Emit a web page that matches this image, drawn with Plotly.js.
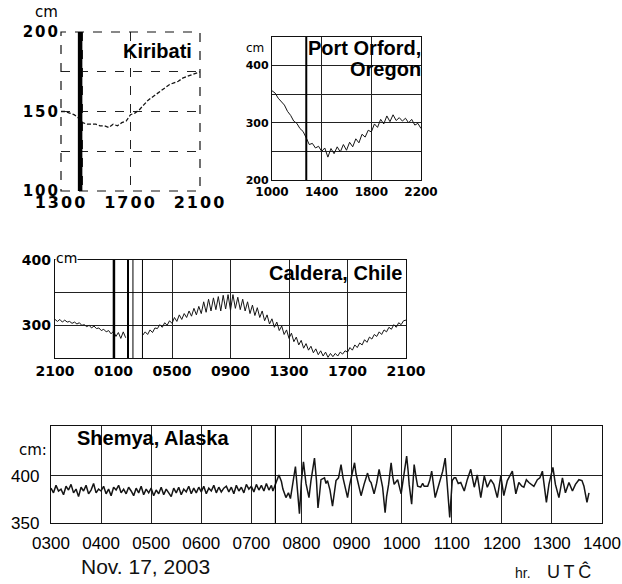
<!DOCTYPE html>
<html>
<head>
<meta charset="utf-8">
<script src="https://cdn.plot.ly/plotly-3.0.1.min.js"></script>
<style>
  html, body { margin: 0; padding: 0; background: #fff; }
  #chart { width: 622px; height: 584px; }
  .subplot.xy .xtick text, .subplot.xy .ytick text { letter-spacing: 2px; }
  .subplot.x3y3 .xtick text { letter-spacing: 1px; }
</style>
</head>
<body>
<div id="chart"></div>
<script>
// ---------------- DATA ----------------
// Kiribati (hours 1300-2100, 15-min readings, cm)
const kiribatiStartHr = 13, kiribatiStepHr = 0.25;
const kiribatiLevel = [150,150,149,148,146,143,142,142,142,141,141,140,142,141,143,144,
                       148,149,151,154,157,159,161,163,165,167,168,169,171,172,173,174,175];
const kiribatiTickHours = [13, 14.25, 17, 21];
const kiribatiTickText  = ['1300', '', '1700', '2100'];
const kiribatiEvents = [14.1];

// Port Orford, Oregon (hours 1000-2200, 15-min readings, cm)
const orfordStartHr = 10, orfordStepHr = 0.25;
const orfordLevel = [356,352,343,336,331,320,313,303,299,290,285,274,262,264,256,259,
                     250,256,240,255,246,258,249,262,252,266,258,272,265,280,275,287,
                     284,298,292,306,298,312,302,314,304,309,303,308,300,306,296,299,290];
const orfordTickHours = [10, 14, 18, 22];
const orfordTickText  = ['1000', '1400', '1800', '2200'];
const orfordLevelTicks = [200, 250, 300, 350, 400];
const orfordLevelText  = ['200', '', '300', '', '400'];
const orfordEvents = [12.76];

// Caldera, Chile (hours after 2100, 10-min readings, cm; null = no record)
const calderaStartHr = 0, calderaStepHr = 1/6;
const calderaLevel = [
  309,306,309,305,308,305, 306,303,305,302,304,300, 301,298,300,296,299,295,
  296,292,294,290,292,287, 291,283,289,280,290,281, null,null,null,null,null,null,
  285,290,286,293,289,296, 295,301,297,304,300,307, 303,312,306,316,309,318,
  312,322,314,326,316,329, 318,336,320,340,322,342, 324,344,322,346,325,347,
  323,347,326,343,324,340, 322,336,318,331,315,327, 312,322,307,316,302,310,
  297,305,292,299,286,293, 280,288,275,282,270,277, 265,272,262,268,258,264,
  255,261,253,259,251,257, 252,257,253,259,256,261, 259,266,262,270,266,273,
  270,278,274,282,279,286, 283,290,286,293,290,297, 294,301,297,304,301,307, 308];
const calderaTickHours = [0, 4, 8, 12, 16, 20, 24];
const calderaTickText  = ['2100', '0100', '0500', '0900', '1300', '1700', '2100'];
const calderaLevelTicks = [250, 300, 350, 400];
const calderaLevelText  = ['', '300', '', '400'];
const calderaEvents = [4.03, 4.99, 5.33, 5.98];

// Shemya, Alaska (hours UTC, Nov 17 2003, cm)
const shemyaQuietStartHr = 3, shemyaQuietStepHr = 0.05;
const shemyaQuietLevel = [
  387,382,390,384,386,380,389,385,391,382, 386,378,388,384,390,381,385,392,382,386,
  384,389,381,386,379,388,385,390,382,386, 381,388,384,379,387,382,389,380,386,382,
  387,379,385,381,388,380,386,382,378,387, 382,388,380,386,383,389,381,387,382,388,
  383,389,381,387,384,390,382,388,383,387, 389,383,388,381,390,384,388,382,391,386,
  389,383,391,385,390,384,392,385,390];
const shemyaActiveHours = [
  7.43,7.49,7.55,7.60,7.63,7.69,7.74,7.78,7.82,7.88,7.92,7.96,8.00,8.04,8.09,8.15,8.19,8.23,8.26,8.30,
  8.33,8.36,8.39,8.46,8.49,8.52,8.57,8.62,8.66,8.69,8.74,8.79,8.83,8.86,8.92,8.96,8.99,9.03,9.06,9.09,
  9.12,9.19,9.25,9.32,9.36,9.39,9.45,9.50,9.55,9.59,9.62,9.67,9.70,9.74,9.79,9.82,9.85,9.92,9.99,10.02,
  10.05,10.10,10.13,10.15,10.20,10.25,10.29,10.32,10.38,10.42,10.45,10.52,10.56,10.60,10.67,10.71,10.75,10.82,10.87,10.91,
  10.96,11.01,11.05,11.08,11.13,11.18,11.25,11.31,11.38,11.45,11.51,11.58,11.65,11.71,11.78,11.84,11.91,11.98,12.04,12.11,
  12.21,12.28,12.34,12.40,12.44,12.49,12.54,12.64,12.71,12.76,12.81,12.89,12.94,13.02,13.07,13.14,13.21,13.27,13.34,13.41,
  13.47,13.54,13.60,13.64,13.70,13.74];
const shemyaActiveLevel = [
  384,392,401,394,386,377,382,376,390,410,385,360,395,415,392,377,395,409,419,395,
  366,380,396,398,392,395,385,368,385,395,398,412,398,391,377,390,398,405,414,402,
  395,379,391,403,395,393,381,392,407,398,388,361,378,391,414,400,391,396,381,392,
  405,421,405,391,370,412,398,389,388,392,389,389,395,405,377,385,391,405,419,391,
  356,395,398,398,392,393,384,396,407,388,401,377,400,388,396,391,377,400,379,395,
  405,381,393,389,388,396,393,389,396,398,405,372,391,409,391,377,398,382,393,384,
  391,396,395,389,372,382];
const shemyaTickHours = [3,4,5,6,7,8,9,10,11,12,13,14];
const shemyaTickText  = ['0300','0400','0500','0600','0700','0800','0900','1000','1100','1200','1300','1400'];
const shemyaEvents = [7.48];

// ---------------- BUILD ----------------
const W = 622, H = 584;
const px = v => v / W;
const py = v => 1 - v / H;
const series = (start, step, arr) => arr.map((_, i) => start + i * step);

const lineCol = '#151515';
const traces = [
  { x: series(kiribatiStartHr, kiribatiStepHr, kiribatiLevel), y: kiribatiLevel,
    xaxis: 'x', yaxis: 'y', mode: 'lines', line: { color: lineCol, width: 1.3, dash: '4px,2px' }, hoverinfo: 'skip' },
  { x: series(orfordStartHr, orfordStepHr, orfordLevel), y: orfordLevel,
    xaxis: 'x2', yaxis: 'y2', mode: 'lines', line: { color: lineCol, width: 1 }, hoverinfo: 'skip' },
  { x: series(calderaStartHr, calderaStepHr, calderaLevel), y: calderaLevel,
    xaxis: 'x3', yaxis: 'y3', mode: 'lines', connectgaps: false, line: { color: lineCol, width: 1 }, hoverinfo: 'skip' },
  { x: series(shemyaQuietStartHr, shemyaQuietStepHr, shemyaQuietLevel).concat(shemyaActiveHours),
    y: shemyaQuietLevel.concat(shemyaActiveLevel),
    xaxis: 'x4', yaxis: 'y4', mode: 'lines', line: { color: lineCol, width: 1.5 }, hoverinfo: 'skip' }
];

const gridCol = '#222';
const baseAxis = {
  showline: true, mirror: true, linecolor: '#111', linewidth: 1.2,
  showgrid: true, gridcolor: gridCol, gridwidth: 1, zeroline: false,
  ticks: '', tickmode: 'array', tickangle: 0, fixedrange: true, ticklabeloverflow: 'allow'
};
const boldDV = s => ({ family: 'DejaVu Sans', size: s, color: '#000', weight: 'bold' });
const sans = s => ({ family: 'Liberation Sans, Arial, sans-serif', size: s, color: '#000' });

const layout = {
  width: W, height: H,
  margin: { l: 0, r: 0, t: 0, b: 0 },
  paper_bgcolor: '#fff', plot_bgcolor: '#fff',
  showlegend: false,
  xaxis: Object.assign({}, baseAxis, { domain: [px(61), px(200)], range: [13, 21], anchor: 'y',
    showline: false, griddash: 'dash', tickvals: kiribatiTickHours, ticktext: kiribatiTickText, tickfont: boldDV(16) }),
  yaxis: Object.assign({}, baseAxis, { domain: [py(191), py(32)], range: [100, 200], anchor: 'x',
    showline: false, griddash: 'dash', tickvals: [100, 125, 150, 175, 200], ticktext: ['100', '', '150', '', '200'], tickfont: boldDV(15) }),
  xaxis2: Object.assign({}, baseAxis, { domain: [px(272), px(421)], range: [10, 22], anchor: 'y2',
    tickvals: orfordTickHours, ticktext: orfordTickText, tickfont: boldDV(12) }),
  yaxis2: Object.assign({}, baseAxis, { domain: [py(180), py(37)], range: [200, 450], anchor: 'x2',
    tickvals: orfordLevelTicks, ticktext: orfordLevelText, tickfont: boldDV(11) }),
  xaxis3: Object.assign({}, baseAxis, { domain: [px(55), px(406)], range: [0, 24], anchor: 'y3',
    tickvals: calderaTickHours, ticktext: calderaTickText, tickfont: boldDV(14) }),
  yaxis3: Object.assign({}, baseAxis, { domain: [py(358), py(260)], range: [250, 400], anchor: 'x3',
    tickvals: calderaLevelTicks, ticktext: calderaLevelText, tickfont: boldDV(14) }),
  xaxis4: Object.assign({}, baseAxis, { domain: [px(51), px(602)], range: [3, 14], anchor: 'y4',
    tickvals: shemyaTickHours, ticktext: shemyaTickText, tickfont: sans(17), ticklabelstandoff: 4 }),
  yaxis4: Object.assign({}, baseAxis, { domain: [py(523), py(426)], range: [350, 453], anchor: 'x4',
    tickvals: [350, 400], ticktext: ['350', '400'], tickfont: sans(17), ticklabelstandoff: 7 }),
  shapes: [],
  annotations: []
};

layout.shapes.push({ type: 'rect', xref: 'x domain', yref: 'y domain', x0: 0, x1: 1, y0: 0, y1: 1,
  line: { color: '#111', width: 1.2, dash: 'dash' } });

const eventLine = (xa, ya, t, w) => ({ type: 'line', xref: xa, yref: ya + ' domain', x0: t, x1: t, y0: 0, y1: 1,
  line: { color: '#000', width: w } });
const kiribatiW = [4.5];
const orfordW = [2];
const calderaW = [2.5, 2, 1, 1];
const shemyaW = [1.2];
kiribatiEvents.forEach((t, i) => layout.shapes.push(eventLine('x', 'y', t, kiribatiW[i])));
orfordEvents.forEach((t, i) => layout.shapes.push(eventLine('x2', 'y2', t, orfordW[i])));
calderaEvents.forEach((t, i) => layout.shapes.push(eventLine('x3', 'y3', t, calderaW[i])));
shemyaEvents.forEach((t, i) => layout.shapes.push(eventLine('x4', 'y4', t, shemyaW[i])));

const ann = (text, x, y, font, xanchor, extra) => Object.assign({
  text, x: px(x), y: py(y), xref: 'paper', yref: 'paper', showarrow: false,
  xanchor: xanchor || 'center', yanchor: 'middle', font, borderpad: 0
}, extra || {});
const titleFont = s => ({ family: 'Liberation Sans, Arial, sans-serif', size: s, color: '#000', weight: 'bold' });

layout.annotations.push(
  ann('Kiribati', 157.5, 50.8, titleFont(20)),
  ann('Port Orford,', 422, 48, titleFont(20), 'right'),
  ann('Oregon', 422, 68.5, titleFont(20), 'right'),
  ann('Caldera, Chile', 402.5, 272.5, titleFont(20), 'right'),
  ann('Shemya, Alaska', 152.5, 438, titleFont(20)),
  ann('cm', 46.5, 12, { family: 'DejaVu Sans', size: 15, color: '#000' }),
  ann('cm', 255, 48, { family: 'DejaVu Sans', size: 12, color: '#000' }),
  ann('cm', 66, 257.5, { family: 'DejaVu Sans', size: 14, color: '#000' }, 'center', { bgcolor: '#fff' }),
  ann('cm:', 33, 450, { family: 'DejaVu Sans', size: 15, color: '#000' }),
  ann('Nov. 17, 2003', 145, 566, { family: 'Liberation Sans, Arial, sans-serif', size: 21, color: '#111' }),
  ann('hr.', 523, 573, { family: 'Liberation Sans, Arial, sans-serif', size: 14, color: '#111' }),
  ann('U\u2009T\u2009\u0108', 569, 571, { family: 'Liberation Sans, Arial, sans-serif', size: 18, color: '#111' })
);

Plotly.newPlot('chart', traces, layout, { staticPlot: true, displayModeBar: false });
</script>
</body>
</html>
